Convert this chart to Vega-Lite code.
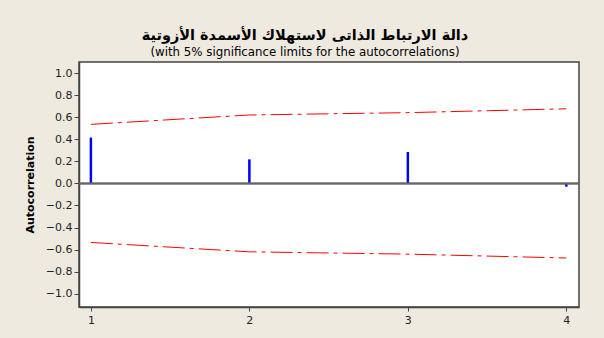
{
  "$schema": "https://vega.github.io/schema/vega-lite/v6.json",
  "width": 500,
  "height": 245,
  "autosize": {"type": "none"},
  "padding": {"left": 79, "top": 62, "right": 25, "bottom": 31},
  "background": "#EEEAE0",
  "config": {
    "view": {"fill": "white", "stroke": "#444444", "strokeWidth": 1.5},
    "font": "DejaVu Sans",
    "axis": {"labelOverlap": false, "labelBound": false, "labelFlush": false, "grid": false}
  },
  "title": {
    "text": "دالة الارتباط الذاتى لاستهلاك الأسمدة الأزوتية",
    "subtitle": "(with 5% significance limits for the autocorrelations)",
    "font": "DejaVu Sans",
    "fontSize": 14.5,
    "fontWeight": "bold",
    "color": "black",
    "subtitleFont": "DejaVu Sans",
    "subtitleFontSize": 11.8,
    "subtitleColor": "black",
    "subtitlePadding": 4,
    "anchor": "middle",
    "dx": -24,
    "offset": 2
  },
  "data": {
    "values": [
      {"lag": 1, "acf": 0.415, "upper": 0.535, "lower": -0.535},
      {"lag": 2, "acf": 0.218, "upper": 0.62, "lower": -0.62},
      {"lag": 3, "acf": 0.285, "upper": 0.641, "lower": -0.641},
      {"lag": 4, "acf": -0.03, "upper": 0.676, "lower": -0.676}
    ]
  },
  "layer": [
    {
      "mark": {"type": "rule", "color": "#0000FF", "strokeWidth": 2.5},
      "encoding": {
        "x": {
          "field": "lag", "type": "quantitative",
          "scale": {"domain": [0.925, 4.08], "nice": false, "zero": false},
          "axis": {
            "values": [1, 2, 3, 4], "format": "d", "title": null,
            "domainColor": "#444444", "domainWidth": 1.5, "tickColor": "#444444", "tickSize": 4,
            "labelFontSize": 11, "labelColor": "#222222", "labelPadding": 3
          }
        },
        "y": {
          "field": "acf", "type": "quantitative",
          "scale": {"domain": [-1.12, 1.1], "nice": false, "zero": false},
          "axis": {
            "tickCount": 11,
            "format": ".1f", "title": "Autocorrelation",
            "titleFontSize": 11, "titleFontWeight": "bold", "titleColor": "black", "titlePadding": 10,
            "domainColor": "#444444", "domainWidth": 1.5, "tickColor": "#444444", "tickSize": 5,
            "labelFontSize": 11, "labelColor": "#222222", "labelPadding": 2
          }
        },
        "y2": {"datum": 0}
      }
    },
    {
      "mark": {"type": "rule", "color": "#666666", "strokeWidth": 1.5},
      "encoding": {"y": {"datum": 0, "type": "quantitative"}}
    },
    {
      "mark": {"type": "line", "color": "#FF0000", "strokeWidth": 1, "strokeDash": [22, 5, 4, 5]},
      "encoding": {
        "x": {"field": "lag", "type": "quantitative"},
        "y": {"field": "upper", "type": "quantitative"}
      }
    },
    {
      "mark": {"type": "line", "color": "#FF0000", "strokeWidth": 1, "strokeDash": [22, 5, 4, 5]},
      "encoding": {
        "x": {"field": "lag", "type": "quantitative"},
        "y": {"field": "lower", "type": "quantitative"}
      }
    }
  ]
}
